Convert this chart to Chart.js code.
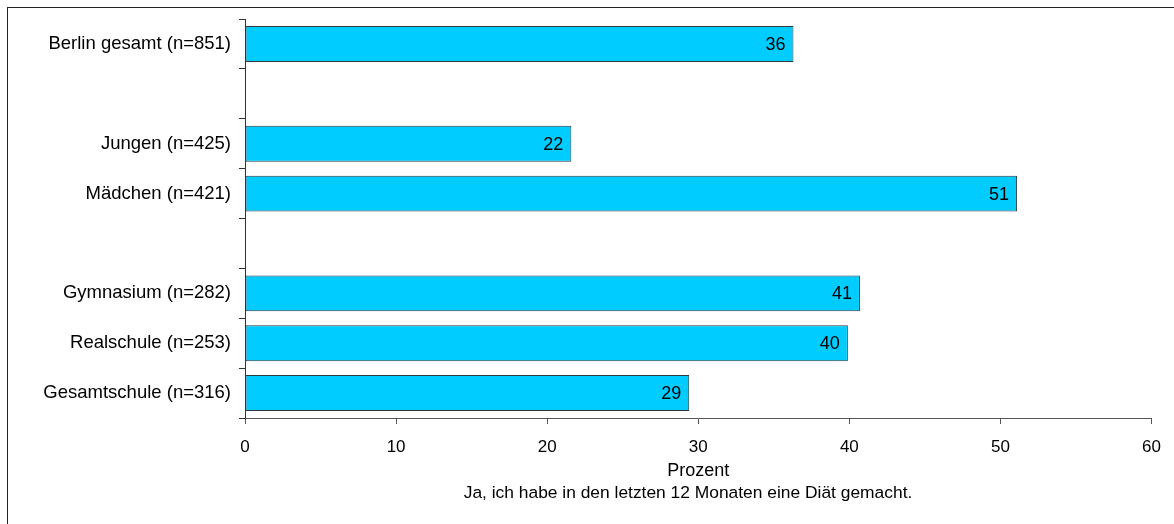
<!DOCTYPE html>
<html lang="de">
<head>
  <meta charset="UTF-8">
  <title>Diät in den letzten 12 Monaten</title>
  <script src="https://cdn.jsdelivr.net/npm/chart.js"></script>
  <style>
    html, body {
      margin: 0;
      padding: 0;
      background: #fff;
      overflow: hidden;
    }
    .frame {
      position: absolute;
      left: 7px;
      top: 7px;
      width: 1300px;
      height: 700px;
      border: 1px solid #222;
    }
    .chart-box {
      position: absolute;
      left: 0;
      top: 0;
      width: 1174px;
      height: 524px;
    }
  </style>
</head>
<body>
  <div class="frame"></div>
  <div class="chart-box">
    <canvas id="dietChart"></canvas>
  </div>
  <script>
    // leere Einträge = Abstandszeilen zwischen den Gruppen
    const categories = [
      'Berlin gesamt (n=851)', '',
      'Jungen (n=425)', 'Mädchen (n=421)', '',
      'Gymnasium (n=282)', 'Realschule (n=253)', 'Gesamtschule (n=316)'
    ];
    const percent = [36.3, null, 21.6, 51.1, null, 40.7, 39.9, 29.4];
    const valueLabels = ['36', '', '22', '51', '', '41', '40', '29'];
    const xTicks = [0, 10, 20, 30, 40, 50, 60];
    const axisTitle = 'Prozent';
    const note = 'Ja, ich habe in den letzten 12 Monaten eine Diät gemacht.';

    const FONT = "'Liberation Sans', Arial, sans-serif";

    const valuePlugin = {
      id: 'valueLabels',
      afterDatasetsDraw(chart) {
        const ctx = chart.ctx;
        const meta = chart.getDatasetMeta(0);
        ctx.save();
        ctx.font = '18px ' + FONT;
        ctx.fillStyle = '#000';
        ctx.textAlign = 'right';
        ctx.textBaseline = 'middle';
        meta.data.forEach((bar, i) => {
          if (percent[i] == null) return;
          ctx.fillText(valueLabels[i], bar.x - 8, bar.y + 1);
        });
        ctx.restore();
      }
    };

    const titlePlugin = {
      id: 'axisTitles',
      afterDraw(chart) {
        const ctx = chart.ctx;
        const area = chart.chartArea;
        ctx.save();
        ctx.fillStyle = '#000';
        ctx.textAlign = 'center';
        ctx.textBaseline = 'middle';
        ctx.font = '18px ' + FONT;
        ctx.fillText(axisTitle, (area.left + area.right) / 2, 471);
        ctx.font = '17.4px ' + FONT;
        ctx.fillText(note, 688, 493);
        ctx.restore();
      }
    };

    new Chart(document.getElementById('dietChart').getContext('2d'), {
      type: 'bar',
      data: {
        labels: categories,
        datasets: [{
          data: percent,
          backgroundColor: '#00CCFF',
          borderColor: '#2b3a40',
          borderWidth: 1,
          borderSkipped: false,
          barPercentage: 0.72,
          categoryPercentage: 1
        }]
      },
      options: {
        indexAxis: 'y',
        responsive: true,
        maintainAspectRatio: false,
        animation: false,
        layout: { padding: { top: 18, right: 22, left: 0, bottom: 0 } },
        plugins: {
          legend: { display: false },
          tooltip: { enabled: false }
        },
        scales: {
          x: {
            type: 'linear',
            min: xTicks[0],
            max: xTicks[xTicks.length - 1],
            afterBuildTicks(scale) {
              scale.ticks = xTicks.map(v => ({ value: v }));
            },
            afterFit(scale) { scale.height = 106; },
            border: { color: '#555', width: 1 },
            grid: { drawOnChartArea: false, drawTicks: true, tickLength: 6, color: '#555' },
            ticks: { color: '#000', padding: 13, font: { family: FONT, size: 17 } }
          },
          y: {
            type: 'category',
            offset: true,
            afterFit(scale) { scale.width = 245; },
            border: { color: '#333', width: 1 },
            grid: { offset: true, drawOnChartArea: false, tickLength: 6, color: '#333' },
            ticks: { color: '#000', padding: 8, font: { family: FONT, size: 18.5 }, autoSkip: false }
          }
        }
      },
      plugins: [valuePlugin, titlePlugin]
    });
  </script>
</body>
</html>
